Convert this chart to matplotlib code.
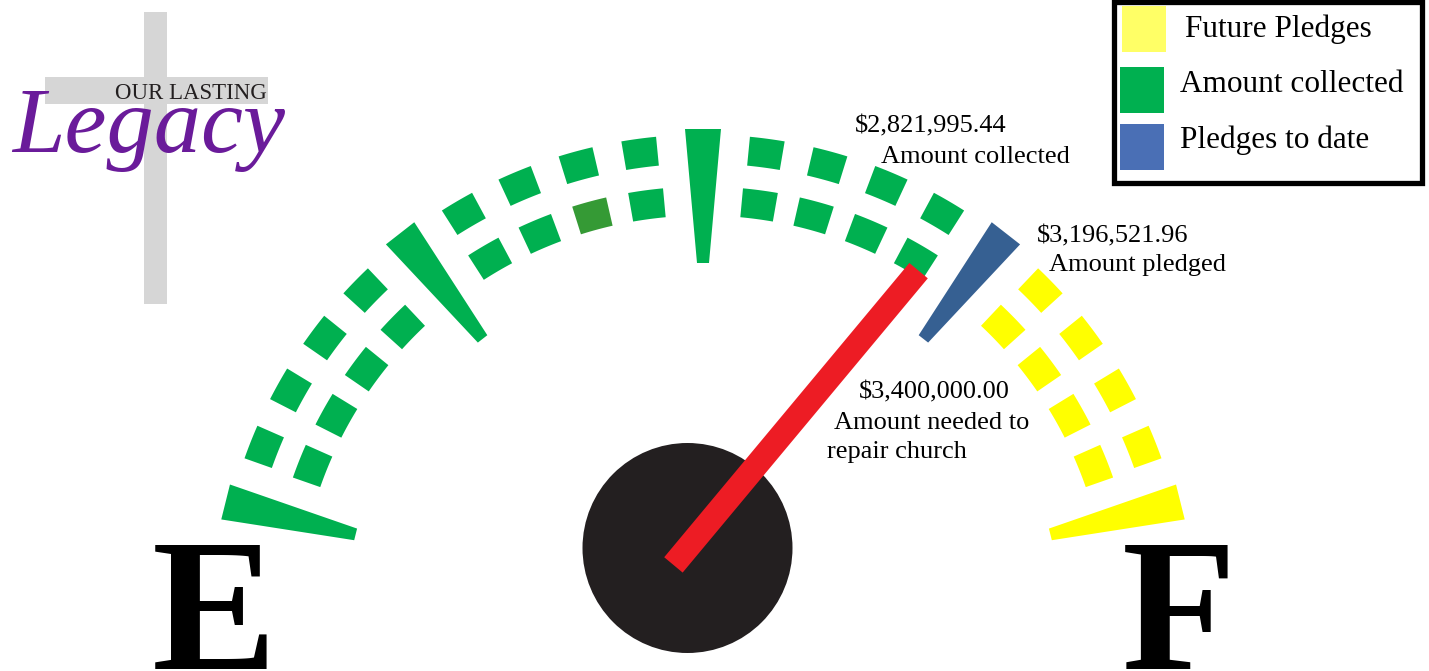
import numpy as np
import matplotlib
matplotlib.use("Agg")
import matplotlib.pyplot as plt
from matplotlib.patches import Polygon, Rectangle, Circle

# ---------------- data ----------------
amount_collected = 2821995.44
amount_pledged = 3196521.96
amount_needed = 3400000.00
value_labels = ["$2,821,995.44", "$3,196,521.96", "$3,400,000.00"]
caption_lines = [["Amount collected"], ["Amount pledged"], ["Amount needed to", "repair church"]]
legend_labels = ["Future Pledges", "Amount collected", "Pledges to date"]
legend_colors = ["#ffff66", "#00b050", "#4a6fb5"]
major_fracs = [0.0, 0.25, 0.5, 0.75, 1.0]
major_kinds = ["collected", "collected", "collected", "pledged", "future"]
minor_fracs = [0.05, 0.10, 0.15, 0.20, 0.30, 0.35, 0.40, 0.45, 0.55, 0.60, 0.65, 0.70,
               0.80, 0.85, 0.90, 0.95]
minor_kinds = ["collected"] * 12 + ["future"] * 4
highlight_inner_frac = 0.40
end_letters = ["E", "F"]

# ---------------- style ----------------
kind_colors = {"collected": "#00b050", "pledged": "#366092", "future": "#ffff00"}
dark_green = "#359a35"
serif = ["Liberation Serif", "DejaVu Serif"]

W, H = 1429, 671
fig = plt.figure(figsize=(W / 100, H / 100), dpi=100)
ax = fig.add_axes([0, 0, 1, 1])
ax.set_xlim(0, W)
ax.set_ylim(H, 0)
ax.set_aspect("equal")
ax.axis("off")

cx, cy = 703, 621
a0, a1 = 166.0, 14.0


def ang(f):
    return a0 - f * (a0 - a1)


def pt(r, th, c=(cx, cy)):
    t = np.radians(th)
    return np.array([c[0] + r * np.cos(t), c[1] - r * np.sin(t)])


def tick_wedge(th, r_in, r_out, w_in, w_out, color):
    t = np.radians(th)
    n = np.array([np.sin(t), np.cos(t)])
    po, pi = pt(r_out, th), pt(r_in, th)
    poly = [po + n * w_out, po - n * w_out, pi - n * w_in, pi + n * w_in]
    ax.add_patch(Polygon(poly, closed=True, color=color, lw=0, zorder=3))


def dash(th, r_c, depth, width, color):
    r_in, r_out = r_c - depth / 2, r_c + depth / 2
    dth = np.degrees(width / 2 / r_c)
    ts = np.linspace(th - dth, th + dth, 12)
    outer = [pt(r_out, t) for t in ts]
    inner = [pt(r_in, t) for t in ts[::-1]]
    ax.add_patch(Polygon(outer + inner, closed=True, color=color, lw=0, zorder=3))


# ---------------- logo ----------------
ax.add_patch(Rectangle((144, 12), 23, 292, color="#d6d6d6", lw=0, zorder=1))
ax.add_patch(Rectangle((45, 77), 223, 27, color="#d6d6d6", lw=0, zorder=1))
ax.text(115, 99, "OUR LASTING", family=serif, fontsize=16.5, color="#231f20",
        ha="left", va="baseline", zorder=2)
ax.text(12, 152, "Legacy", family=serif, style="italic", fontsize=68, color="#6a1b9a",
        ha="left", va="baseline", zorder=2)

# ---------------- gauge ----------------
for f, k in zip(major_fracs, major_kinds):
    tick_wedge(ang(f), 358, 492, 6, 18, kind_colors[k])

for f, k in zip(minor_fracs, minor_kinds):
    dash(ang(f), 472, 29, 34, kind_colors[k])
    col = dark_green if abs(f - highlight_inner_frac) < 1e-9 else kind_colors[k]
    dash(ang(f), 420, 29, 34, col)

# hub and needle
hub = (687.5, 548.0)
ax.add_patch(Circle(hub, 105, color="#231f20", lw=0, zorder=4))
needle_angle = 50.2
t = np.radians(needle_angle)
u = np.array([np.cos(t), -np.sin(t)])
n = np.array([np.sin(t), np.cos(t)])
base = np.array(hub) - 22 * u
tip = np.array(hub) + 361 * u
hw = 12
ax.add_patch(Polygon([base + n * hw, tip + n * hw, tip - n * hw, base - n * hw],
                     closed=True, color="#ed1c24", lw=0, zorder=5))

# ---------------- labels ----------------
lab_fs = 19
ax.text(855, 132, value_labels[0], family=serif, fontsize=lab_fs, ha="left", va="baseline")
ax.text(881, 163, caption_lines[0][0], family=serif, fontsize=lab_fs, ha="left", va="baseline")
ax.text(1037, 242, value_labels[1], family=serif, fontsize=lab_fs, ha="left", va="baseline")
ax.text(1049, 271, caption_lines[1][0], family=serif, fontsize=lab_fs, ha="left", va="baseline")
ax.text(859, 398, value_labels[2], family=serif, fontsize=lab_fs, ha="left", va="baseline")
ax.text(834, 429, caption_lines[2][0], family=serif, fontsize=lab_fs, ha="left", va="baseline")
ax.text(827, 458, caption_lines[2][1], family=serif, fontsize=lab_fs, ha="left", va="baseline")

# E / F
ax.text(152, 669, end_letters[0], family=serif, weight="bold", fontsize=135,
        ha="left", va="baseline", color="black")
ax.text(1122, 669, end_letters[1], family=serif, weight="bold", fontsize=135,
        ha="left", va="baseline", color="black")

# ---------------- legend ----------------
ax.add_patch(Rectangle((1114.5, 1.5), 308, 181.5, fill=False, ec="black", lw=3.8, zorder=6))
sw_y = [6, 67, 124]
sw_x = [1122, 1120, 1120]
txt_x = [1185, 1180, 1180]
txt_base = [37, 92, 148]
for lbl, col, sx, sy, tx, tb in zip(legend_labels, legend_colors, sw_x, sw_y, txt_x, txt_base):
    ax.add_patch(Rectangle((sx, sy), 44, 46, color=col, lw=0, zorder=6))
    ax.text(tx, tb, lbl, family=serif, fontsize=22.5, ha="left", va="baseline", zorder=7)

fig.savefig("out.png", dpi=100, facecolor="white")
